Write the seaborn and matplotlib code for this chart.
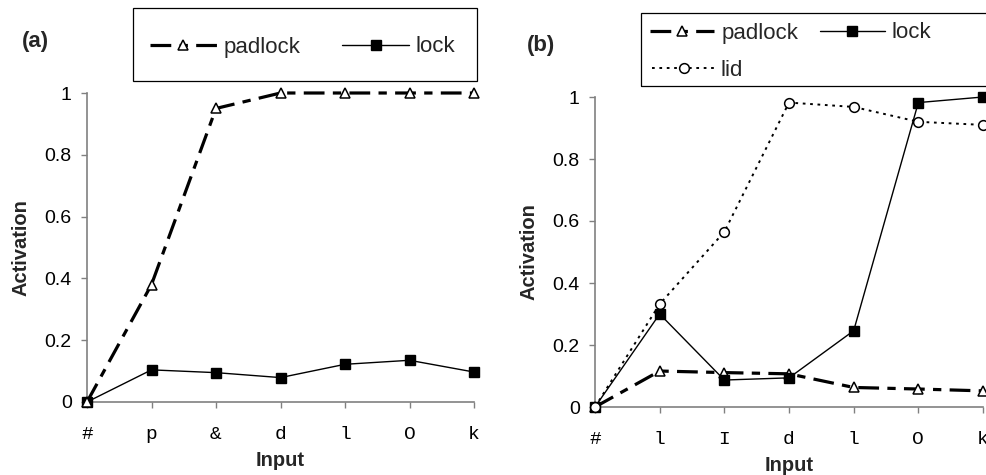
import matplotlib
matplotlib.use("Agg")
import matplotlib.pyplot as plt
import seaborn as sns
import pandas as pd
from matplotlib.patches import Rectangle

# ---- data ----
labels_a = ["#", "p", "&", "d", "l", "O", "k"]
padlock_a = [0.0, 0.38, 0.95, 1.0, 1.0, 1.0, 1.0]
lock_a = [0.0, 0.104, 0.095, 0.079, 0.122, 0.135, 0.097]

labels_b = ["#", "l", "I", "d", "l", "O", "k"]
padlock_b = [0.0, 0.116, 0.111, 0.107, 0.063, 0.058, 0.052]
lock_b = [0.0, 0.300, 0.087, 0.094, 0.246, 0.982, 1.0]
lid_b = [0.0, 0.332, 0.565, 0.982, 0.968, 0.920, 0.910]

yticks = [0, 0.2, 0.4, 0.6, 0.8, 1.0]
ytick_labels = ["0", "0.2", "0.4", "0.6", "0.8", "1"]

sns.set_theme(style="ticks")
plt.rcParams["font.family"] = ["Liberation Sans", "DejaVu Sans"]

W, H = 986, 475
fig = plt.figure(figsize=(W / 100, H / 100), dpi=100)

def fbox(x0, y0, x1, y1):
    return [x0 / W, 1 - y1 / H, (x1 - x0) / W, (y1 - y0) / H]

ax_a = fig.add_axes(fbox(87, 93, 474, 402))
ax_b = fig.add_axes(fbox(595, 97, 983, 407))

padlock_style = dict(color="black", lw=2.3, linestyle=(0, (6.5, 2.6, 2.6, 2.6)),
                     marker="^", ms=7, mfc="white", mec="black", mew=1.1)
lock_style = dict(color="black", lw=1.0, linestyle="-",
                  marker="s", ms=7.5, mfc="black", mec="black", mew=1.0)
lid_style = dict(color="black", lw=1.4, linestyle=(0, (1.4, 2.4)),
                 marker="o", ms=7, mfc="white", mec="black", mew=1.1)

def draw(ax, x, y, name, style, z):
    df = pd.DataFrame({"x": x, "y": y})
    sns.lineplot(data=df, x="x", y="y", ax=ax, sort=False, errorbar=None,
                 label=name, zorder=z, clip_on=False, **style)

xa = list(range(len(labels_a)))
xb = list(range(len(labels_b)))

draw(ax_a, xa, lock_a, "lock", lock_style, 3)
draw(ax_a, xa, padlock_a, "padlock", padlock_style, 4)

draw(ax_b, xb, padlock_b, "padlock", padlock_style, 3)
draw(ax_b, xb, lock_b, "lock", lock_style, 4)
draw(ax_b, xb, lid_b, "lid", lid_style, 5)

spine_col = "#808080"
for ax, labs in ((ax_a, labels_a), (ax_b, labels_b)):
    ax.set_xlim(0, 6)
    ax.set_ylim(0, 1)
    ax.set_xticks(range(len(labs)))
    ax.set_xticklabels(labs, fontfamily="Liberation Mono", fontsize=14)
    ax.set_yticks(yticks)
    ax.set_yticklabels(ytick_labels, fontsize=14)
    ax.tick_params(axis="both", direction="out", length=4, width=1,
                   color=spine_col, labelcolor="black")
    ax.tick_params(axis="y", pad=7)
    ax.tick_params(axis="x", pad=13)
    for s in ("top", "right"):
        ax.spines[s].set_visible(False)
    for s in ("left", "bottom"):
        ax.spines[s].set_color(spine_col)
        ax.spines[s].set_linewidth(1.2)
    ax.set_xlabel("Input", fontsize=14.5, fontweight="bold", labelpad=6)
    ax.set_ylabel("Activation", fontsize=14.5, fontweight="bold", labelpad=10)
    ax.set_facecolor("white")
    if ax.get_legend():
        ax.get_legend().remove()

# legends
h_a, l_a = ax_a.get_legend_handles_labels()
order_a = [l_a.index("padlock"), l_a.index("lock")]
fig.legend([h_a[i] for i in order_a], [l_a[i] for i in order_a],
           loc="center left", bbox_to_anchor=(150 / W, 1 - 47 / H),
           ncol=2, frameon=False, fontsize=16, handlelength=3.0,
           handletextpad=0.3, columnspacing=1.9, borderpad=0, borderaxespad=0)
fig.add_artist(Rectangle((133 / W, 1 - 81 / H), (477 - 133) / W, (81 - 8) / H,
                         transform=fig.transFigure, fill=False, ec="black", lw=0.9))

h_b, l_b = ax_b.get_legend_handles_labels()
fig.legend([h_b[l_b.index("padlock")], h_b[l_b.index("lock")]], ["padlock", "lock"],
           loc="center left", bbox_to_anchor=(650 / W, 1 - 33 / H),
           ncol=2, frameon=False, fontsize=16, handlelength=2.9,
           handletextpad=0.3, columnspacing=1.0, borderpad=0, borderaxespad=0)
fig.legend([h_b[l_b.index("lid")]], ["lid"],
           loc="center left", bbox_to_anchor=(652 / W, 1 - 70 / H),
           frameon=False, fontsize=16, handlelength=2.9,
           handletextpad=0.2, borderpad=0, borderaxespad=0)
fig.add_artist(Rectangle((641 / W, 1 - 86 / H), (990 - 641) / W, (86 - 13) / H,
                         transform=fig.transFigure, fill=False, ec="black", lw=0.9))

fig.text(22 / W, 1 - 42 / H, "(a)", fontsize=16, fontweight="bold", va="center")
fig.text(527 / W, 1 - 45 / H, "(b)", fontsize=16, fontweight="bold", va="center")

fig.savefig("out.png", dpi=100, facecolor="white")
